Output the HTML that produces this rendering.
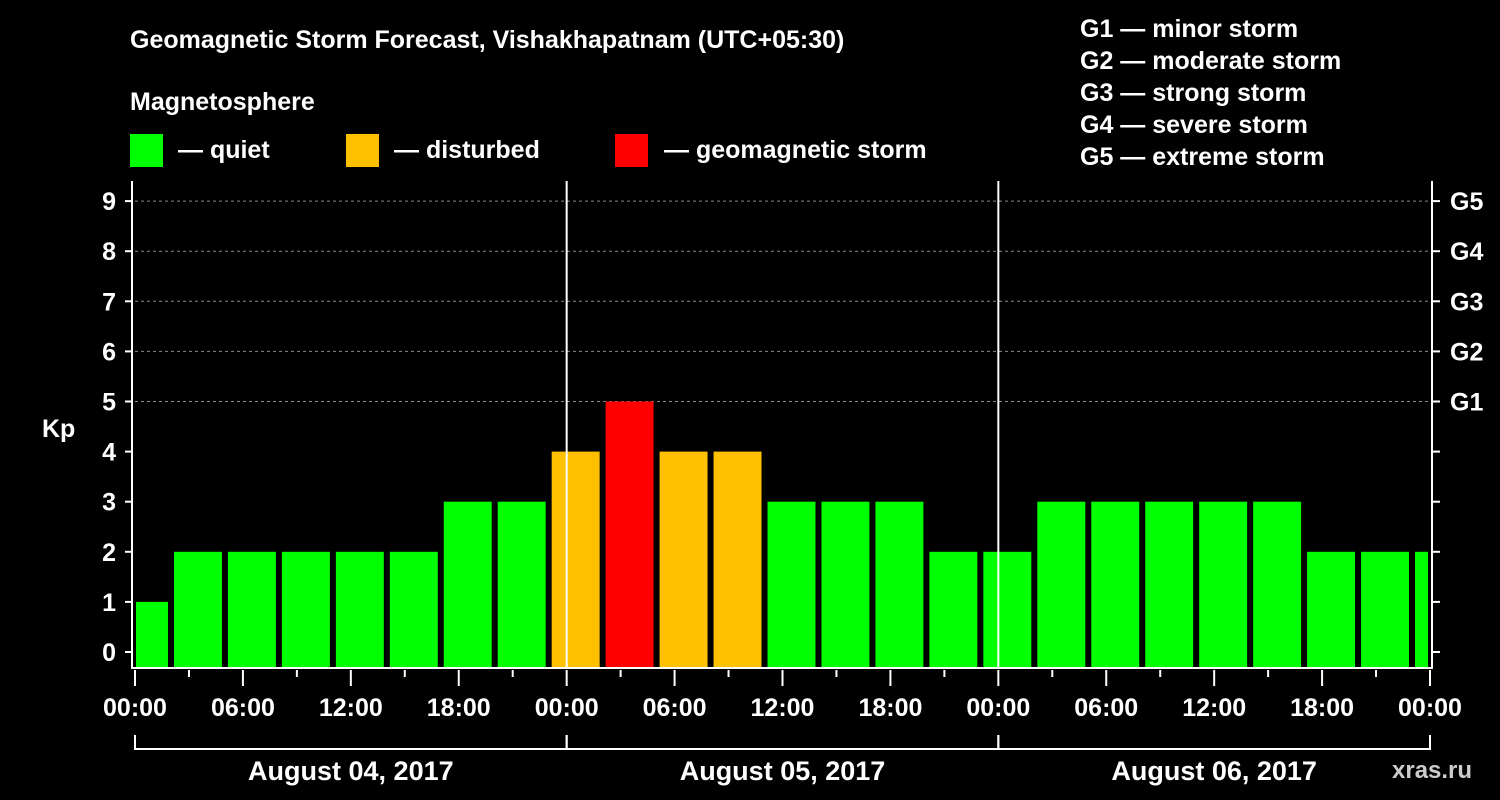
<!DOCTYPE html>
<html><head><meta charset="utf-8"><style>
body{margin:0;background:#000;}
svg{display:block;font-family:"Liberation Sans",Arial,sans-serif;font-weight:bold;}
</style></head><body>
<svg width="1500" height="800" viewBox="0 0 1500 800">
<rect width="1500" height="800" fill="#000"/>
<g fill="#fff" font-size="25">
<text x="130" y="48">Geomagnetic Storm Forecast, Vishakhapatnam (UTC+05:30)</text>
<text x="130" y="110">Magnetosphere</text>
<text x="178" y="158">— quiet</text>
<text x="394" y="158">— disturbed</text>
<text x="664" y="158">— geomagnetic storm</text>
<text x="1080" y="37">G1 — minor storm</text>
<text x="1080" y="69">G2 — moderate storm</text>
<text x="1080" y="101">G3 — strong storm</text>
<text x="1080" y="133">G4 — severe storm</text>
<text x="1080" y="165">G5 — extreme storm</text>
<text x="42" y="437">Kp</text>
<text x="1392" y="778" font-size="24" fill="#ccc">xras.ru</text>
</g>
<rect x="130" y="134" width="33" height="33" fill="#00ff00"/>
<rect x="346" y="134" width="33" height="33" fill="#ffc000"/>
<rect x="615" y="134" width="33" height="33" fill="#ff0000"/>
<g id="grid"></g>
<g id="bars"></g>
<g id="axes" stroke="#fff" stroke-width="2" fill="none"></g>
<g id="labels" fill="#fff" font-size="25"></g>
</svg>
<script>
const kpValues=[1,2,2,2,2,2,3,3,4,5,4,4,3,3,3,2,2,3,3,3,3,3,2,2,2];
const yTicks=[0,1,2,3,4,5,6,7,8,9];
const gLabels=["G1","G2","G3","G4","G5"];
const xTickLabels=["00:00","06:00","12:00","18:00","00:00","06:00","12:00","18:00","00:00","06:00","12:00","18:00","00:00"];
const dayLabels=["August 04, 2017","August 05, 2017","August 06, 2017"];
const NS="http://www.w3.org/2000/svg";
const X0=135,X1=1430,HOURS=72,firstSlotHour=-1;
const xs=h=>X0+(X1-X0)*h/HOURS;
const ys=v=>652-v*50.1;
const PB=667;
function mk(p,t,a){const e=document.createElementNS(NS,t);for(const k in a)e.setAttribute(k,a[k]);p.appendChild(e);return e;}
const grid=document.getElementById('grid'),bars=document.getElementById('bars'),axes=document.getElementById('axes'),labels=document.getElementById('labels');
yTicks.forEach(v=>{if(v>=5){const l=mk(grid,'line',{x1:X0,x2:X1,y1:ys(v),y2:ys(v),stroke:'#888','stroke-dasharray':'3,3','stroke-width':1});

}});
kpValues.forEach((v,i)=>{
 let a=xs(firstSlotHour+i*3)+3,b=xs(firstSlotHour+(i+1)*3)-3;
 a=Math.max(a,X0+1);b=Math.min(b,X1-2);
 const col=v>=5?'#ff0000':(v>=4?'#ffc000':'#00ff00');
 const r=mk(bars,'rect',{x:a,y:ys(v),width:b-a,height:PB-ys(v),fill:col});
 
 
});
// axes
let e=mk(axes,'polyline',{points:`132,181 132,668 1432,668 1432,181`});


[1,2].forEach(d=>{const l=mk(axes,'line',{x1:xs(d*24),x2:xs(d*24),y1:181,y2:668});

});
yTicks.forEach(v=>{
 const t=mk(axes,'line',{x1:125,x2:132,y1:ys(v),y2:ys(v)});
 
 
 const t2=mk(axes,'line',{x1:1432,x2:1440,y1:ys(v),y2:ys(v)});
 
 
 const tx=mk(labels,'text',{x:116,y:ys(v)+9,'text-anchor':'end'});tx.textContent=v;
 
 
});
gLabels.forEach((g,i)=>{const tx=mk(labels,'text',{x:1450,y:ys(5+i)+9});tx.textContent=g;
 
 });
for(let h=0;h<=HOURS;h+=3){const big=h%6==0;const t=mk(axes,'line',{x1:xs(h),x2:xs(h),y1:670,y2:big?686:677});
 
 }
xTickLabels.forEach((s,i)=>{const tx=mk(labels,'text',{x:xs(i*6),y:716,'text-anchor':'middle'});tx.textContent=s;
 
 });
dayLabels.forEach((s,i)=>{
 const p=mk(axes,'polyline',{points:`${xs(i*24)},735 ${xs(i*24)},749 ${xs((i+1)*24)},749 ${xs((i+1)*24)},735`});
 
 
 const tx=mk(labels,'text',{x:xs(i*24+12),y:780,'text-anchor':'middle','font-size':27});tx.textContent=s;
 
 
});
</script>
</body></html>
